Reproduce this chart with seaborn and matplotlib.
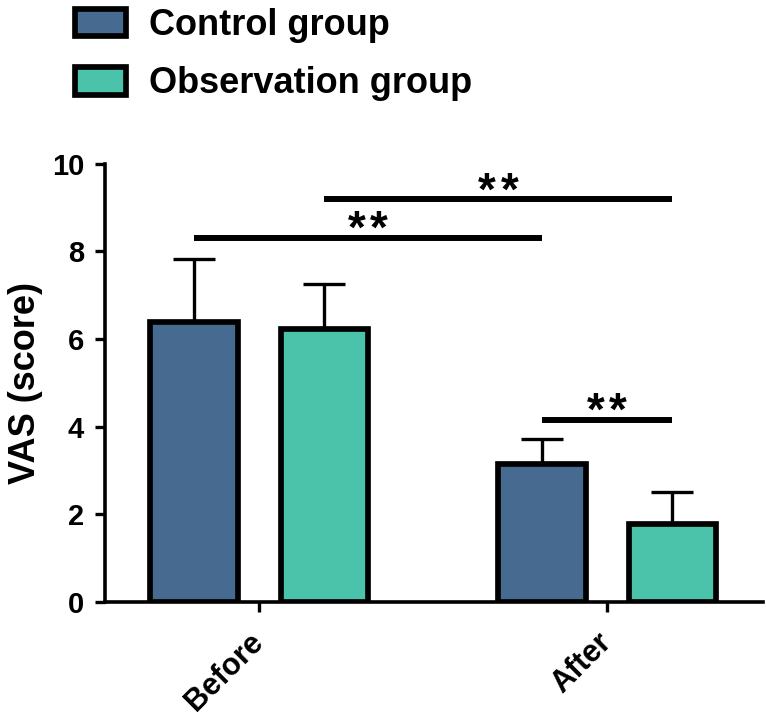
import pandas as pd
import seaborn as sns
import matplotlib.pyplot as plt
from matplotlib.patches import Patch

# values
times = ['Before', 'After']
groups = ['Control group', 'Observation group']
control_mean = [6.40, 3.15]
control_sd = [1.42, 0.57]
observation_mean = [6.24, 1.78]
observation_sd = [1.01, 0.73]

# significance brackets: (bar a, bar b, height, stars), bars in left-to-right order
sig_pairs = [(0, 2, 8.30, 2), (1, 3, 9.19, 2), (2, 3, 4.16, 2)]

palette = {'Control group': '#476A91', 'Observation group': '#4BC3AB'}

df = pd.DataFrame({
    'time': times * 2,
    'group': [groups[0]] * 2 + [groups[1]] * 2,
    'vas': control_mean + observation_mean,
    'sd': control_sd + observation_sd,
})

sns.set_style('ticks')
plt.rcParams['font.family'] = ['Liberation Sans', 'DejaVu Sans']
plt.rcParams['font.weight'] = 'bold'
for k in ['text.color', 'axes.labelcolor', 'xtick.color', 'ytick.color', 'axes.edgecolor']:
    plt.rcParams[k] = 'black'

fig = plt.figure(figsize=(7.66, 7.22), dpi=100)
ax = fig.add_axes([0.137, 0.1666, 0.859, 0.6064])

sns.barplot(
    data=df, x='time', y='vas', hue='group', order=times, hue_order=groups,
    palette=palette, saturation=1, width=0.75, gap=0.33, errorbar=None,
    edgecolor='black', linewidth=4.1, ax=ax, legend=False, zorder=3
)

# bars sorted left to right: control-before, obs-before, control-after, obs-after
bars = sorted(ax.patches, key=lambda p: p.get_x())
sds = [control_sd[0], observation_sd[0], control_sd[1], observation_sd[1]]
centers = []
for bar, sd in zip(bars, sds):
    xc = bar.get_x() + bar.get_width() / 2
    centers.append(xc)
    ax.errorbar(xc, bar.get_height(), yerr=[[0], [sd]], fmt='none',
                ecolor='black', elinewidth=2.4, capsize=15, capthick=2.4, zorder=2)

for a, b, h, n in sig_pairs:
    ax.plot([centers[a], centers[b]], [h, h], color='black', lw=4.3,
            solid_capstyle='butt', zorder=4)
    mid = (centers[a] + centers[b]) / 2
    for i in range(n):
        dx = (i - (n - 1) / 2) * 16
        ax.annotate('*', xy=(mid, h), xytext=(dx, -3.5),
                    textcoords='offset points', ha='center', va='baseline',
                    fontsize=33, fontweight='bold')

ax.set_ylim(0, 10)
ax.set_yticks([0, 2, 4, 6, 8, 10])
ax.set_xlim(-0.443, 1.448)
ax.set_xlabel('')
ax.set_ylabel('VAS (score)', fontsize=26, fontweight='bold', labelpad=6)
sns.despine(ax=ax)
for s in ['left', 'bottom']:
    ax.spines[s].set_linewidth(2.6)
ax.tick_params(axis='both', width=2.4, length=7, labelsize=21, pad=8)
ax.tick_params(axis='x', labelsize=22, pad=19)
plt.setp(ax.get_xticklabels(), rotation=45, ha='right', va='center',
         rotation_mode='anchor')

handles = [Patch(facecolor=palette[g], edgecolor='black', linewidth=4.1) for g in groups]
fig.legend(handles, groups, loc='upper left', bbox_to_anchor=(0.098, 0.989),
           frameon=False, handlelength=1.4, handleheight=0.8,
           handletextpad=0.65, labelspacing=0.65, borderpad=0, borderaxespad=0,
           prop={'weight': 'bold', 'size': 26})

fig.savefig('out.png', dpi=100)
